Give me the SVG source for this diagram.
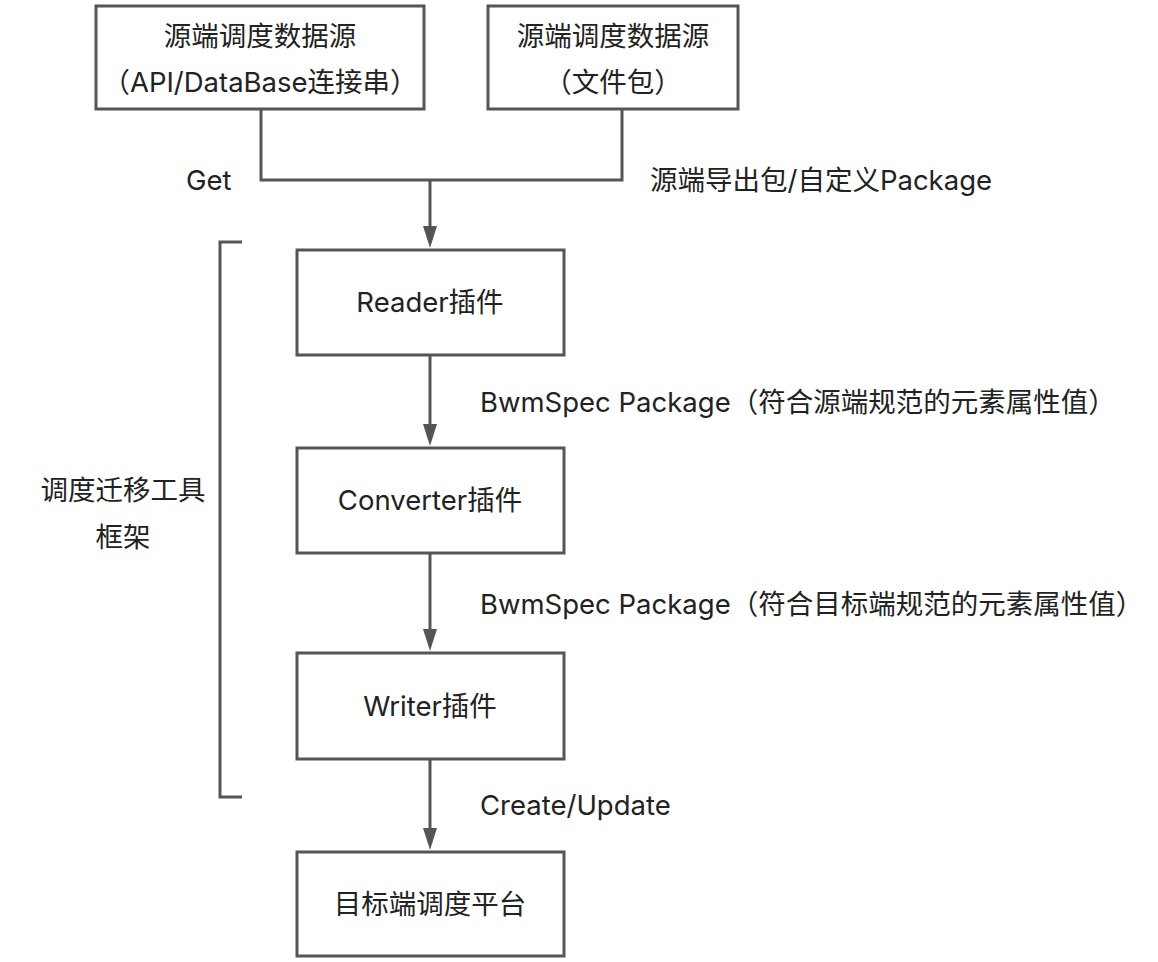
<svg xmlns="http://www.w3.org/2000/svg" width="1158" height="962" viewBox="0 0 1158 962">
<style>
.box{fill:#fff;stroke:#555;stroke-width:3}
.line{fill:none;stroke:#555;stroke-width:3}
text{font-family:Inter,"Noto Sans CJK SC",sans-serif;font-size:27.5px;fill:#222;dominant-baseline:central}
.c{text-anchor:middle}
</style>
<rect width="1158" height="962" fill="#fff"/>
<g id="connectors">
<path class="line" d="M261,109 V180 H622 V109"/>
<line class="line" x1="430" y1="180" x2="430" y2="226"/>
<path d="M423,226 L437,226 L430,248 Z" fill="#555"/>
<line class="line" x1="430" y1="355" x2="430" y2="424"/>
<path d="M423,424 L437,424 L430,446 Z" fill="#555"/>
<line class="line" x1="430" y1="553" x2="430" y2="629"/>
<path d="M423,629 L437,629 L430,651 Z" fill="#555"/>
<line class="line" x1="430" y1="759" x2="430" y2="828"/>
<path d="M423,828 L437,828 L430,850 Z" fill="#555"/>
<text x="186" y="180">Get</text>
<text x="650" y="180">源端导出包/自定义Package</text>
<text x="480" y="402">BwmSpec Package（符合源端规范的元素属性值）</text>
<text x="480" y="604">BwmSpec Package（符合目标端规范的元素属性值）</text>
<text x="480" y="805">Create/Update</text>
</g>
<g id="bracket">
<path class="line" d="M242,242 H220 V797 H242"/>
<text class="c" x="123" y="490">调度迁移工具</text>
<text class="c" x="123" y="537">框架</text>
</g>
<g id="src-api">
<rect class="box" x="96" y="6" width="328" height="103"/>
<text class="c" x="260" y="36">源端调度数据源</text>
<text class="c" x="260" y="82">（API/DataBase连接串）</text>
</g>
<g id="src-file">
<rect class="box" x="488" y="6" width="250" height="103"/>
<text class="c" x="613" y="36">源端调度数据源</text>
<text class="c" x="613" y="82">（文件包）</text>
</g>
<g id="reader">
<rect class="box" x="297" y="250" width="267" height="105"/>
<text class="c" x="430" y="302">Reader插件</text>
</g>
<g id="converter">
<rect class="box" x="297" y="448" width="267" height="105"/>
<text class="c" x="430" y="500">Converter插件</text>
</g>
<g id="writer">
<rect class="box" x="297" y="653" width="267" height="106"/>
<text class="c" x="430" y="706">Writer插件</text>
</g>
<g id="target">
<rect class="box" x="297" y="852" width="267" height="104"/>
<text class="c" x="430" y="904">目标端调度平台</text>
</g>
</svg>
